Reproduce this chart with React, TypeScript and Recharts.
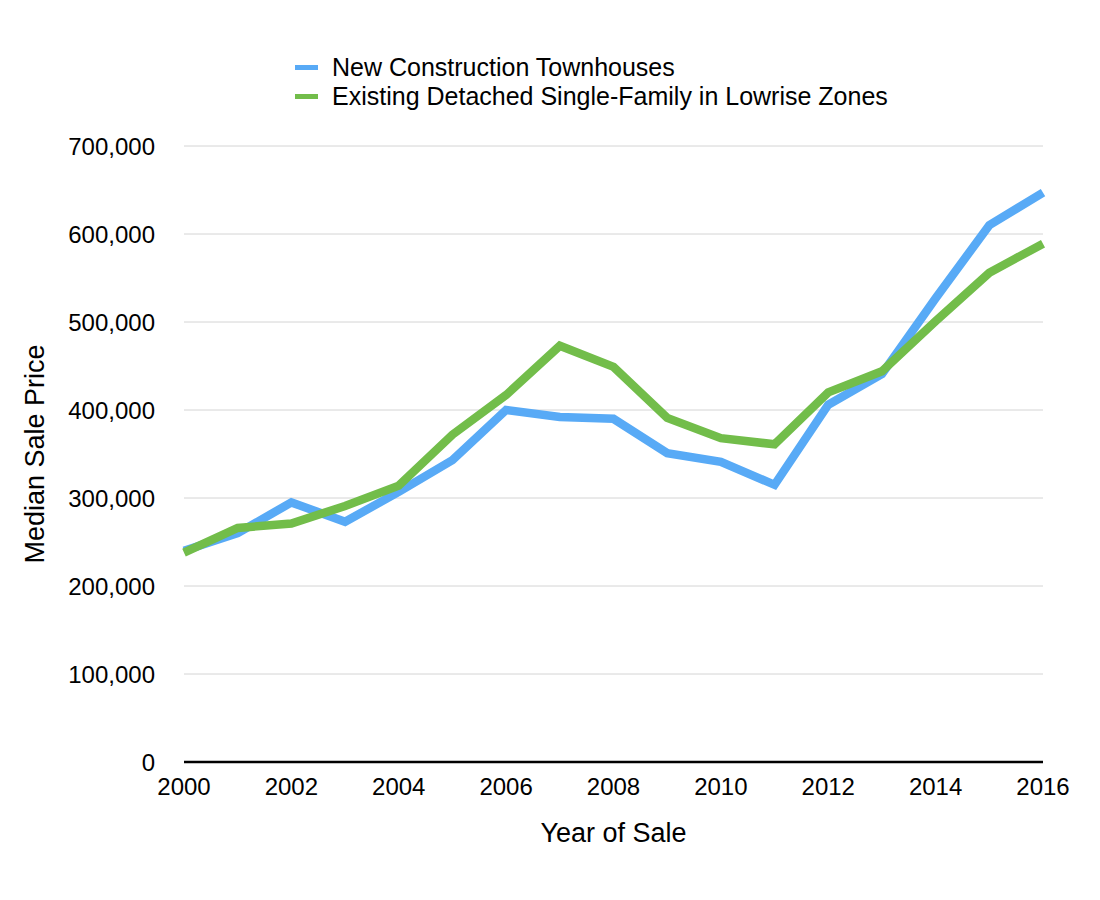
import React from 'react';
import { LineChart, Line, XAxis, YAxis, CartesianGrid, Legend, Label } from 'recharts';

const years = [2000, 2001, 2002, 2003, 2004, 2005, 2006, 2007, 2008, 2009, 2010, 2011, 2012, 2013, 2014, 2015, 2016];
const townhouses = [240000, 260000, 295000, 273000, 307000, 343000, 400000, 392000, 390000, 351000, 341000, 315000, 406000, 441000, 527000, 610000, 647000];
const detached = [238000, 266000, 271000, 291000, 314000, 372000, 417000, 473000, 449000, 391000, 368000, 361000, 420000, 444000, 501000, 556000, 589000];
const seriesNames = ['New Construction Townhouses', 'Existing Detached Single-Family in Lowrise Zones'];
const seriesKeys = ['townhouses', 'detached'];
const seriesColors = ['#58AAF6', '#72BD4A'];
const yTicks = [0, 100000, 200000, 300000, 400000, 500000, 600000, 700000];
const xTicks = [2000, 2002, 2004, 2006, 2008, 2010, 2012, 2014, 2016];
const xTitle = 'Year of Sale';
const yTitle = 'Median Sale Price';

const data = years.map((year, i) => ({ year, townhouses: townhouses[i], detached: detached[i] }));

const FONT = '"Liberation Sans", Arial, Helvetica, sans-serif';

const renderLegend = () => (
  <div style={{ fontFamily: FONT }}>
    {seriesNames.map((name, i) => (
      <div key={name} style={{ display: 'flex', alignItems: 'center', height: 29 }}>
        <span style={{ display: 'inline-block', width: 23, height: 5, background: seriesColors[i], marginRight: 14 }} />
        <span style={{ fontSize: 25, color: '#000', whiteSpace: 'nowrap' }}>{name}</span>
      </div>
    ))}
  </div>
);

const fmt = (v: number) => v.toLocaleString('en-US');

export default function App() {
  return (
    <div style={{ width: 1092, height: 892, fontFamily: FONT }}>
      <LineChart width={1092} height={892} data={data} margin={{ top: 138, right: 57, bottom: 0, left: 0 }}>
        <CartesianGrid vertical={false} stroke="#d4d4d4" strokeWidth={1} />
        <XAxis
          dataKey="year"
          type="number"
          domain={[2000, 2016]}
          ticks={xTicks}
          height={138}
          tickLine={false}
          tickSize={0}
          tickMargin={16}
          axisLine={{ stroke: '#000', strokeWidth: 2.5 }}
          tick={{ fill: '#000', fontSize: 24, fontFamily: FONT }}
          interval={0}
        >
          <Label
            content={({ viewBox }: any) => (
              <text
                x={viewBox.x + viewBox.width / 2}
                y={viewBox.y + 71}
                textAnchor="middle"
                dominantBaseline="central"
                fontSize={27}
                fontFamily={FONT}
                fill="#000"
              >
                {xTitle}
              </text>
            )}
          />
        </XAxis>
        <YAxis
          type="number"
          domain={[0, 700000]}
          ticks={yTicks}
          width={176}
          axisLine={false}
          tickLine={false}
          tickSize={0}
          tickMargin={29}
          tickFormatter={fmt}
          tick={{ fill: '#000', fontSize: 24, fontFamily: FONT }}
          interval={0}
        >
          <Label
            content={({ viewBox }: any) => {
              const cx = viewBox.x + 27;
              const cy = viewBox.y + viewBox.height / 2;
              return (
                <text
                  x={cx}
                  y={cy}
                  transform={`rotate(-90 ${cx} ${cy})`}
                  textAnchor="middle"
                  dominantBaseline="central"
                  fontSize={27}
                  fontFamily={FONT}
                  fill="#000"
                >
                  {yTitle}
                </text>
              );
            }}
          />
        </YAxis>
        <Legend
          layout="horizontal"
          verticalAlign="middle"
          align="center"
          content={renderLegend}
          wrapperStyle={{ position: 'absolute', top: 45, left: 287, width: 'auto', height: 'auto' }}
        />
        {seriesKeys.map((k, i) => (
          <Line
            key={k}
            dataKey={k}
            name={seriesNames[i]}
            type="linear"
            stroke={seriesColors[i]}
            strokeWidth={8.5}
            dot={false}
            activeDot={false}
            isAnimationActive={false}
            strokeLinejoin="miter"
          />
        ))}
      </LineChart>
    </div>
  );
}
